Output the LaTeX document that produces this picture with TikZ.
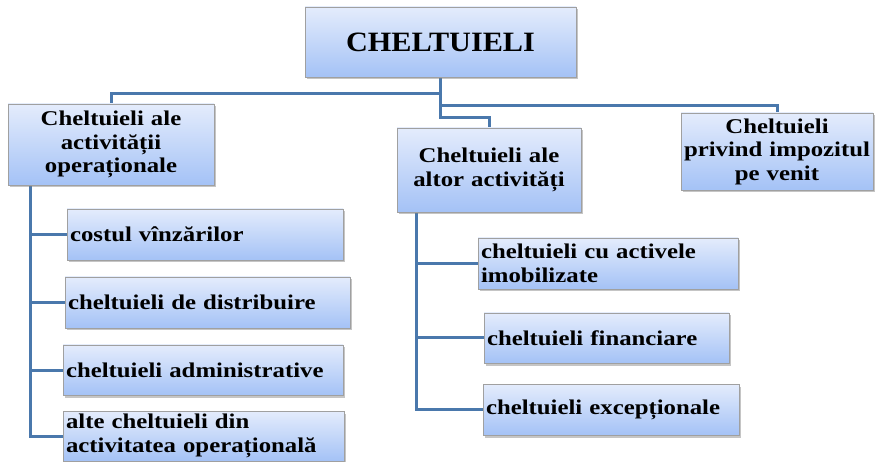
\documentclass[tikz,border=0pt]{standalone}
\usepackage{fontspec}
\setmainfont{Liberation Serif}[FakeStretch=1.18]
\newfontfamily\rootfont{Liberation Serif}[FakeStretch=1.08]
\usetikzlibrary{shadows}
\definecolor{boxtop}{HTML}{E4ECFC}
\definecolor{boxbot}{HTML}{A4C2F6}
\definecolor{boxline}{HTML}{A0A0A0}
\definecolor{conncol}{HTML}{4A78AC}
\pgfdeclarelayer{bg}
\pgfsetlayers{bg,main}
\tikzset{
  box/.style={draw=boxline, line width=0.8pt, top color=boxtop, bottom color=boxbot,
    drop shadow={opacity=0.45, shadow xshift=1.5pt, shadow yshift=-2.5pt},
    inner ysep=0pt, inner xsep=3pt, align=center,
    font=\bfseries\fontsize{21}{23.5}\selectfont},
  leaf/.style={box, align=left, inner xsep=3pt},
  conn/.style={draw=conncol, line width=3pt}
}
\begin{document}
\begin{tikzpicture}[x=1pt,y=-1pt]
\begin{pgfonlayer}{bg}
\fill[white] (0,0) rectangle (881,462);
\end{pgfonlayer}
\useasboundingbox (0,0) rectangle (881,462);
\node[box, minimum width=271pt, minimum height=70pt, text width=265pt,
  font=\rootfont\bfseries\fontsize{28}{30}\selectfont] (root) at (440.5,42) {CHELTUIELI};
\node[box, minimum width=206pt, minimum height=81pt, text width=200pt] (b1) at (111,144.5)
  {Cheltuieli ale\\activității\\operaționale};
\node[box, minimum width=184pt, minimum height=84pt, text width=178pt] (b2) at (489,170)
  {Cheltuieli ale\\altor activități};
\node[box, minimum width=192pt, minimum height=77pt, text width=192pt, inner xsep=0pt] (b3) at (777,151.5)
  {Cheltuieli\\privind impozitul\\pe venit};
\node[leaf, minimum height=51pt, text width=270pt] (l1) at (205,234.5) {costul vînzărilor};
\node[leaf, minimum height=51pt, text width=279pt] (l2) at (207.5,302.5) {cheltuieli de distribuire};
\node[leaf, minimum height=50pt, text width=274pt] (l3) at (203,370) {cheltuieli administrative};
\node[leaf, minimum height=50pt, text width=275pt] (l4) at (203.5,436) {alte cheltuieli din\\activitatea operațională};
\node[leaf, minimum height=51pt, text width=254pt] (m1) at (608,263.5) {cheltuieli cu activele\\imobilizate};
\node[leaf, minimum height=50pt, text width=239pt] (m2) at (606.5,338) {cheltuieli financiare};
\node[leaf, minimum height=51pt, text width=250pt] (m3) at (611,409.5) {cheltuieli excepționale};
\coordinate (busL) at (30,0);
\coordinate (busM) at (416,0);
\begin{pgfonlayer}{bg}
\draw[conn] (root.south) -- ++(0,16) -| (b1.north);
\draw[conn] (root.south) -- ++(0,28) -| (b3.north);
\draw[conn] (root.south) -- ++(0,40) -| (b2.north);
\draw[conn] (b1.south -| busL) |- (l4.west);
\draw[conn] (l1.west -| busL) -- (l1.west);
\draw[conn] (l2.west -| busL) -- (l2.west);
\draw[conn] (l3.west -| busL) -- (l3.west);
\draw[conn] (b2.south -| busM) |- (m3.west);
\draw[conn] (m1.west -| busM) -- (m1.west);
\draw[conn] (m2.west -| busM) -- (m2.west);
\end{pgfonlayer}
\end{tikzpicture}
\end{document}
